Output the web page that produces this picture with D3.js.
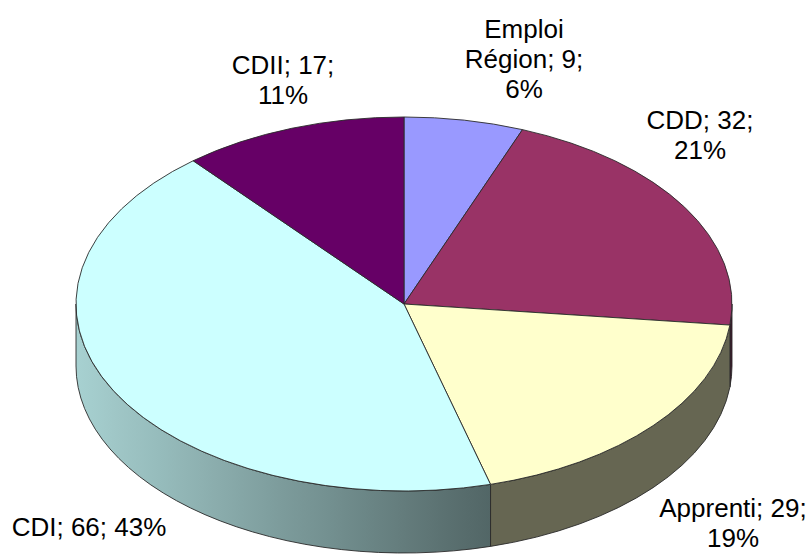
<!DOCTYPE html>
<html>
<head>
<meta charset="utf-8">
<script src="https://cdn.jsdelivr.net/npm/d3@7"></script>
<style>
  body { margin:0; background:#fff; }
  text { font-family: "Liberation Sans", Arial, sans-serif; font-size:26px; fill:#000; }
</style>
</head>
<body>
<div id="chart"></div>
<script>

// data
const categories = ["Emploi Région", "CDD", "Apprenti", "CDI", "CDII"];
const values = [9, 32, 29, 66, 17];
const colors = ["#9999FF", "#993366", "#FFFFCC", "#CCFFFF", "#660066"];

// label boxes (centre x, first baseline, max width)
const labelLayout = [
	{x:524, y:38, w:125},
	{x:700, y:129, w:130},
	{x:733, y:517, w:160},
	{x:89, y:536, w:220},
	{x:283, y:74, w:130}
];

function graph(){

	//sizing
	const width = 811, height = 554;
	const cx = 404, cy = 304, rx = 328, ry = 187, depth = 62;

	let svg = d3.select("#chart")
		.append("svg")
		.attr("width", width)
		.attr("height", height);

	let total = d3.sum(values);
	let data = categories.map((c,i)=>({cat:c, value:values[i], color:colors[i], i:i}));

	let pie = d3.pie().sort(null).value(d=>d.value);
	let arcs = pie(data);

	function pt(a, dy){
		return [cx + rx*Math.sin(a), cy - ry*Math.cos(a) + dy];
	}

	//brightness of side faces, depending on angle
	function shade(a){
		let deg = a*180/Math.PI;
		if(deg < 165) return 0.40;
		return 0.40 + 0.42*Math.min(1,(deg-165)/105);
	}

	let defs = svg.append("defs");

	//side faces, front half only
	let sides = svg.append("g");
	arcs.forEach(function(d, k){
		let a0 = Math.max(d.startAngle, Math.PI/2);
		let a1 = Math.min(d.endAngle, 3*Math.PI/2);
		if(a1 <= a0) return;

		let base = d3.rgb(d.data.color);
		let grad = defs.append("linearGradient")
			.attr("id", "side"+k)
			.attr("gradientUnits", "userSpaceOnUse")
			.attr("x1", pt(a0,0)[0]).attr("y1", 0)
			.attr("x2", pt(a1,0)[0]).attr("y2", 0);
		d3.range(11).forEach(function(s){
			let a = a0 + (a1-a0)*s/10;
			let f = shade(a);
			grad.append("stop")
				.attr("offset", s/10)
				.attr("stop-color", d3.rgb(base.r*f, base.g*f, base.b*f));
		});

		let t0 = pt(a0,0), t1 = pt(a1,0), b1 = pt(a1,depth), b0 = pt(a0,depth);
		let s1 = `A${rx},${ry} 0 0 1 ${t1[0]},${t1[1]}`;
		let s2 = `A${rx},${ry} 0 0 0 ${b0[0]},${b0[1]}`;
		sides.append("path")
			.attr("d", `M${t0[0]},${t0[1]} ${s1} L${b1[0]},${b1[1]} ${s2} Z`)
			.attr("fill", "url(#side"+k+")")
			.attr("stroke", "#2a2a2a")
			.attr("stroke-width", 0.9)
			.attr("stroke-linejoin", "round");
	});

	//top faces
	let arc = d3.arc().innerRadius(0).outerRadius(rx);
	let top = svg.append("g")
		.attr("transform", `translate(${cx},${cy}) scale(1,${ry/rx})`);

	top.selectAll("path")
		.data(arcs)
		.enter().append("path")
		.attr("d", arc)
		.attr("fill", d=>d.data.color)
		.attr("stroke", "#2a2a2a")
		.attr("stroke-width", 0.9)
		.attr("vector-effect", "non-scaling-stroke")
		.attr("stroke-linejoin", "round");

	//labels
	let labels = svg.append("g");
	arcs.forEach(function(d, k){
		let pct = Math.round(d.data.value/total*100) + "%";
		let words = (d.data.cat + "; " + d.data.value + "; " + pct).split(" ");
		let L = labelLayout[k];
		let t = labels.append("text").attr("text-anchor", "middle");
		let lines = [], cur = [];
		words.forEach(function(w){
			let test = cur.concat([w]).join(" ");
			t.text(test);
			if(cur.length && t.node().getComputedTextLength() > L.w){
				lines.push(cur.join(" "));
				cur = [w];
			} else {
				cur.push(w);
			}
		});
		lines.push(cur.join(" "));
		t.text(null);
		lines.forEach(function(line, j){
			t.append("tspan")
				.attr("x", L.x)
				.attr("y", L.y + j*30)
				.text(line);
		});
	});

} //function graph

graph();
</script>
</body>
</html>
